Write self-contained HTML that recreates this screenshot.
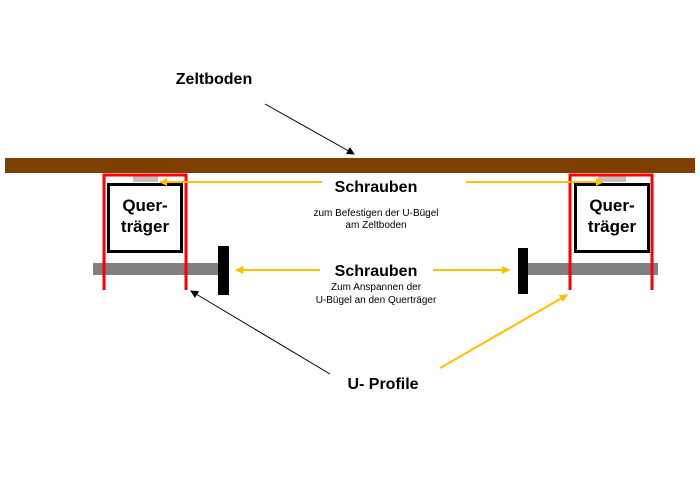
<!DOCTYPE html>
<html><head><meta charset="utf-8"><style>
body{margin:0;background:#fff;}
svg{display:block;font-family:"Liberation Sans",Arial,sans-serif;}
</style></head><body>
<svg width="700" height="496" viewBox="0 0 700 496">
<defs>
<marker id="ay" markerWidth="8" markerHeight="8" refX="7" refY="4" orient="auto" markerUnits="userSpaceOnUse"><path d="M0,0 L8,4 L0,8 z" fill="#ffc000"/></marker>
<marker id="ak" markerWidth="8" markerHeight="8" refX="7" refY="4" orient="auto" markerUnits="userSpaceOnUse"><path d="M0,0 L8,4 L0,8 z" fill="#000"/></marker>
</defs>
<rect x="5" y="158" width="690" height="15" fill="#7f3f00"/>
<!-- left -->
<rect x="93" y="263" width="125" height="12" fill="#808080"/>
<rect x="133" y="176" width="25" height="6" fill="#c0c0c0"/>
<rect x="108.5" y="184.5" width="73" height="67" fill="#fff" stroke="#000" stroke-width="3"/>
<path d="M104,290 V175 H186 V290" fill="none" stroke="#ff0000" stroke-width="3"/>
<rect x="218" y="246" width="11" height="49" fill="#000"/>
<text x="145" y="211" font-size="17" font-weight="bold" text-anchor="middle">Quer-</text>
<text x="145" y="232" font-size="17" font-weight="bold" text-anchor="middle">träger</text>
<!-- right -->
<rect x="528" y="263" width="130" height="12" fill="#808080"/>
<rect x="598" y="176" width="28" height="6" fill="#c0c0c0"/>
<rect x="575.5" y="184.5" width="73" height="67" fill="#fff" stroke="#000" stroke-width="3"/>
<path d="M570,290 V175 H652 V290" fill="none" stroke="#ff0000" stroke-width="3"/>
<rect x="518" y="248" width="10" height="46" fill="#000"/>
<text x="612" y="211" font-size="17" font-weight="bold" text-anchor="middle">Quer-</text>
<text x="612" y="232" font-size="17" font-weight="bold" text-anchor="middle">träger</text>
<!-- arrows -->
<g stroke="#ffc000" stroke-width="2">
<line x1="322" y1="182" x2="160" y2="182" marker-end="url(#ay)"/>
<line x1="466" y1="182" x2="603" y2="182" marker-end="url(#ay)"/>
<line x1="320" y1="270" x2="236" y2="270" marker-end="url(#ay)"/>
<line x1="433" y1="270" x2="509" y2="270" marker-end="url(#ay)"/>
<line x1="440" y1="368" x2="567" y2="295" marker-end="url(#ay)"/>
</g>
<g stroke="#000" stroke-width="1">
<line x1="265" y1="104" x2="354" y2="154" marker-end="url(#ak)"/>
<line x1="330" y1="374" x2="191" y2="291" marker-end="url(#ak)"/>
</g>
<text x="214" y="84" font-size="16" font-weight="bold" text-anchor="middle">Zeltboden</text>
<text x="376" y="192" font-size="16" font-weight="bold" text-anchor="middle">Schrauben</text>
<text x="376" y="216" font-size="10" text-anchor="middle">zum Befestigen der U-Bügel</text>
<text x="376" y="228" font-size="10" text-anchor="middle">am Zeltboden</text>
<text x="376" y="276" font-size="16" font-weight="bold" text-anchor="middle">Schrauben</text>
<text x="376" y="290" font-size="10" text-anchor="middle">Zum Anspannen der</text>
<text x="376" y="303" font-size="10" text-anchor="middle">U-Bügel an den Querträger</text>
<text x="383" y="389" font-size="16" font-weight="bold" text-anchor="middle">U- Profile</text>
</svg>
</body></html>
